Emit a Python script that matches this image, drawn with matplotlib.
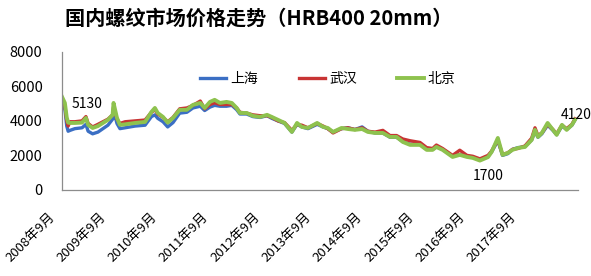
import matplotlib
matplotlib.use("Agg")
import matplotlib.pyplot as plt
import matplotlib.dates as mdates
import matplotlib.transforms as mtransforms
import pandas as pd

plt.rcParams['font.family'] = ['Noto Sans CJK SC', 'DejaVu Sans']

title = "国内螺纹市场价格走势（HRB400 20mm）"
series_names = ["上海", "武汉", "北京"]
tick_labels = ["2008年9月", "2009年9月", "2010年9月", "2011年9月", "2012年9月",
               "2013年9月", "2014年9月", "2015年9月", "2016年9月", "2017年9月"]

dates = [
    "2008-09-01", "2008-09-19", "2008-10-01", "2008-10-10", "2008-10-22", "2008-11-22",
    "2009-01-07", "2009-02-01", "2009-02-15", "2009-03-16", "2009-04-19", "2009-06-22",
    "2009-07-22", "2009-07-28", "2009-08-19", "2009-09-07", "2009-10-10", "2009-12-13",
    "2010-02-15", "2010-03-28", "2010-04-19", "2010-05-07", "2010-06-10", "2010-07-10",
    "2010-08-13", "2010-09-25", "2010-11-10", "2010-12-19", "2011-02-04", "2011-03-04",
    "2011-04-07", "2011-05-07", "2011-06-10", "2011-07-22", "2011-08-25", "2011-09-25",
    "2011-10-16", "2011-11-28", "2012-01-07", "2012-02-22", "2012-04-07", "2012-05-07",
    "2012-06-16", "2012-07-28", "2012-09-13", "2012-10-16", "2012-11-16", "2012-12-25",
    "2013-02-22", "2013-04-01", "2013-05-01", "2013-06-04", "2013-07-28", "2013-09-07",
    "2013-10-22", "2013-12-07", "2014-01-13", "2014-02-28", "2014-04-19", "2014-06-04",
    "2014-07-16", "2014-08-25", "2014-10-10", "2014-12-13", "2015-01-25", "2015-03-04",
    "2015-03-28", "2015-05-07", "2015-07-10", "2015-08-25", "2015-10-10", "2015-11-16",
    "2016-01-01", "2016-02-22", "2016-03-16", "2016-04-25", "2016-05-25", "2016-06-28",
    "2016-07-28", "2016-09-01", "2016-10-16", "2016-11-28", "2016-12-19", "2017-01-07",
    "2017-02-01", "2017-03-10", "2017-04-13", "2017-05-07", "2017-06-10", "2017-07-10",
    "2017-08-13", "2017-09-01",
]

beijing = [
    5390, 5040, 4200, 3900, 3880, 3880, 3900, 4170, 3770, 3590, 3700, 4060,
    4350, 5040, 4170, 3770, 3800, 3880, 3940, 4520, 4750, 4460, 4230, 3900,
    4170, 4640, 4640, 4930, 5040, 4750, 5100, 5220, 5040, 5100, 5040, 4750,
    4460, 4460, 4290, 4230, 4350, 4230, 4060, 3880, 3360, 3880, 3650, 3590,
    3880, 3650, 3590, 3360, 3590, 3530, 3480, 3530, 3360, 3300, 3300, 3070,
    3070, 2780, 2610, 2610, 2320, 2320, 2490, 2320, 1910, 2030, 1910, 1855,
    1700, 1900, 2200, 3010, 2030, 2140, 2320, 2430, 2490, 2900, 3480, 3070,
    3300, 3880, 3480, 3190, 3770, 3480, 3770, 4060,
]

wuhan = [
    5130, 4900, 4000, 3700, 3950, 3950, 4000, 4250, 3850, 3650, 3800, 4100,
    4350, 4800, 4100, 3850, 3950, 4000, 4050, 4500, 4650, 4400, 4200, 3950,
    4200, 4700, 4750, 4900, 5150, 4700, 4950, 5050, 4950, 4950, 4950, 4750,
    4500, 4450, 4350, 4300, 4300, 4200, 4000, 3900, 3450, 3800, 3750, 3600,
    3850, 3700, 3550, 3300, 3550, 3600, 3500, 3600, 3400, 3350, 3450, 3150,
    3150, 2950, 2850, 2750, 2450, 2400, 2600, 2400, 2000, 2300, 2000, 1950,
    1800, 2000, 2250, 2900, 2050, 2150, 2350, 2400, 2550, 3000, 3600, 3150,
    3300, 3800, 3500, 3250, 3750, 3550, 3800, 4120,
]

shanghai = [
    4800, 4700, 3700, 3400, 3450, 3550, 3600, 3800, 3400, 3250, 3350, 3750,
    4100, 4600, 3850, 3550, 3600, 3700, 3750, 4250, 4350, 4150, 3950, 3650,
    3900, 4450, 4500, 4750, 4850, 4600, 4800, 4900, 4850, 4850, 4900, 4650,
    4400, 4400, 4250, 4200, 4300, 4150, 4000, 3850, 3350, 3800, 3650, 3550,
    3800, 3650, 3550, 3350, 3550, 3600, 3500, 3650, 3400, 3300, 3300, 3050,
    3050, 2800, 2650, 2650, 2350, 2350, 2500, 2350, 1950, 2050, 1950, 1900,
    1750, 1950, 2200, 2850, 2000, 2100, 2350, 2450, 2500, 2900, 3400, 3050,
    3250, 3750, 3450, 3200, 3700, 3500, 3750, 4050,
]

colors = ["#3B6FC4", "#C83434", "#8EC24E"]

x = pd.to_datetime(dates)
xn = mdates.date2num(x)

fig = plt.figure(figsize=(5.91, 2.76), dpi=100)
ax = fig.add_axes([0.105, 0.312, 0.873, 0.50])

for vals, name, c, lw in zip([shanghai, wuhan, beijing], series_names, colors, [2.4, 2.4, 2.8]):
    ax.plot(xn, vals, color=c, lw=lw, label=name, solid_joinstyle='round')

x0, x1 = xn[0], xn[-1]
step = (x1 - x0) / 10
ax.set_xlim(x0, x1 + step * 0.06)
ax.set_ylim(0, 8000)
ax.set_yticks([0, 2000, 4000, 6000, 8000])
ax.set_xticks([x0 + k * step for k in range(10)])
ax.set_xticklabels(tick_labels, rotation=45, ha='right', va='top', fontsize=9.5)
ax.tick_params(axis='both', length=0)
ax.tick_params(axis='y', labelsize=10.5, pad=14)
ax.tick_params(axis='x', pad=9)

offset = mtransforms.ScaledTranslation(-0.05, -0.08, fig.dpi_scale_trans)
for lab in ax.get_xticklabels():
    lab.set_transform(lab.get_transform() + offset)

for s in ['top', 'right']:
    ax.spines[s].set_visible(False)
for s in ['left', 'bottom']:
    ax.spines[s].set_color('#8C8C8C')
    ax.spines[s].set_linewidth(0.9)

# data labels
ax.annotate(str(wuhan[0]), xy=(xn[0], wuhan[0]), xytext=(7, -2), textcoords='offset points',
            fontsize=10, va='center', ha='left')
imin = beijing.index(min(beijing))
ax.annotate(str(beijing[imin]), xy=(xn[imin], beijing[imin]), xytext=(6, -11), textcoords='offset points',
            fontsize=10, va='center', ha='center')
ax.annotate(str(wuhan[-1]), xy=(xn[-1], wuhan[-1]), xytext=(1, 3), textcoords='offset points',
            fontsize=10, va='center', ha='center')

ax.legend(loc='center', bbox_to_anchor=(0.515, 0.804), ncol=3, frameon=False, fontsize=10,
          handlelength=1.9, handletextpad=0.3, columnspacing=2.9)

fig.text(0.437, 0.935, title, ha='center', va='center', fontsize=14.5, fontweight='bold')

fig.savefig("out.png", dpi=100)
